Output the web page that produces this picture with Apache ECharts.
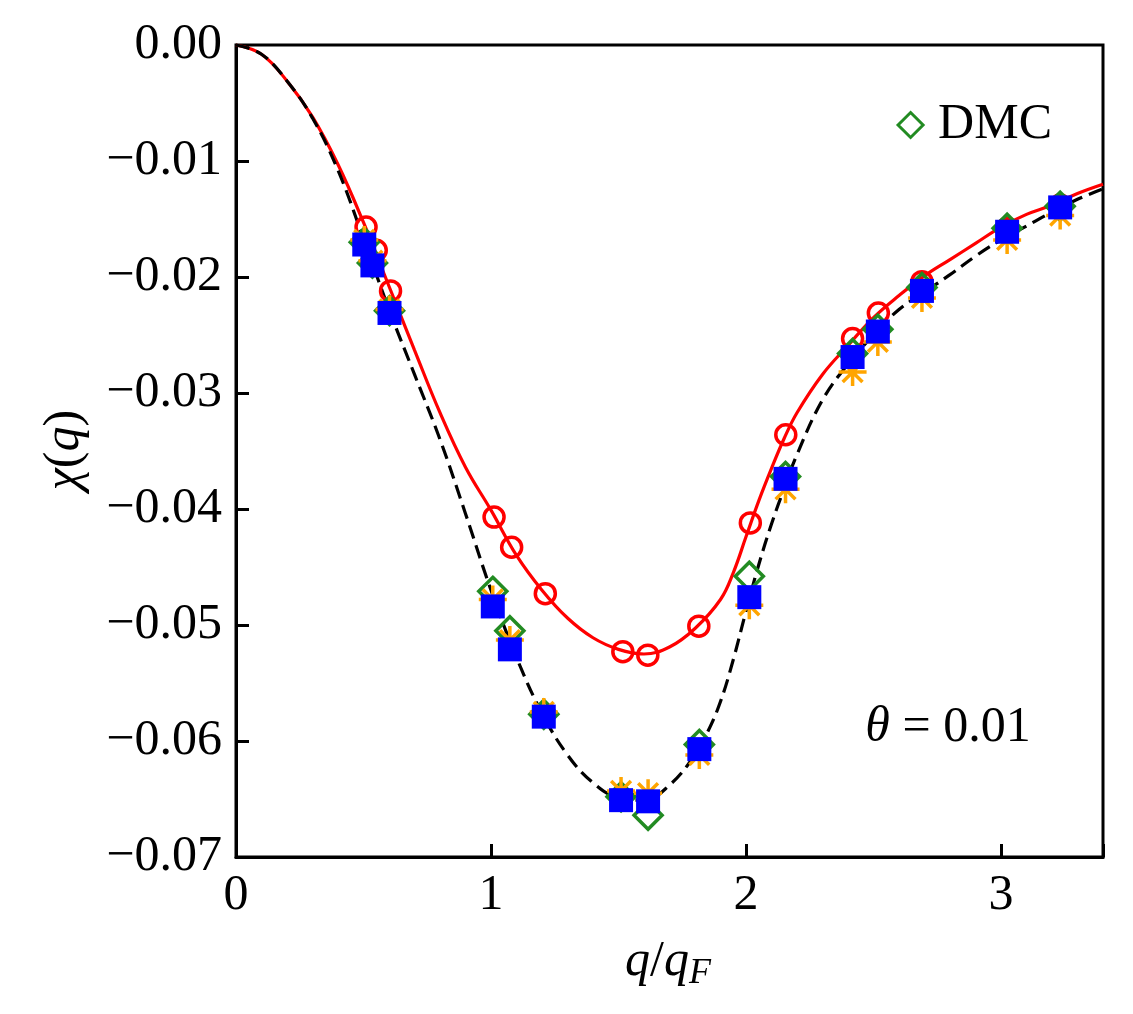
<!DOCTYPE html>
<html>
<head>
<meta charset="utf-8">
<script src="https://cdn.jsdelivr.net/npm/echarts@6/dist/echarts.min.js"></script>
<style>
  html, body { margin: 0; padding: 0; background: #fff; }
  #chart { width: 1133px; height: 1014px; }
</style>
</head>
<body>
<div id="chart"></div>
<script>
// q/qF positions of the data points
var ptX = [0.503, 0.535, 0.602, 1.007, 1.074, 1.207, 1.51, 1.616, 1.817, 2.013, 2.155, 2.418, 2.517, 2.69, 3.024, 3.232];
var redPtX = [0.51, 0.55, 0.606, 1.012, 1.081, 1.213, 1.517, 1.615, 1.815, 2.017, 2.156, 2.418, 2.519, 2.69, 3.024, 3.232];

var redPtY = [-0.0157, -0.0177, -0.0212, -0.0407, -0.0433, -0.0473, -0.0523, -0.0526, -0.0501, -0.0412, -0.0336, -0.0253, -0.0231, -0.0204, -0.0158, -0.0138];
var dmcY = [-0.0170, -0.0188, -0.0229, -0.0471, -0.0505, -0.0577, -0.0648, -0.0664, -0.0603, -0.0458, -0.0372, -0.0266, -0.0245, -0.0209, -0.0158, -0.0139];
var orangeY = [-0.0168, -0.0186, -0.0228, -0.0478, -0.0513, -0.0575, -0.0643, -0.0645, -0.0612, -0.0483, -0.0383, -0.0282, -0.0256, -0.0218, -0.0168, -0.0147];
var blueY = [-0.0172, -0.0190, -0.0231, -0.0484, -0.0521, -0.0579, -0.0651, -0.0652, -0.0607, -0.0476, -0.0374, -0.0269, -0.0247, -0.0212, -0.0161, -0.0140];

// red solid curve
var redLineX = [0, 0.1, 0.2, 0.3, 0.4, 0.5, 0.6, 0.7, 0.8, 0.9, 1.0, 1.1, 1.2, 1.3, 1.4, 1.5, 1.6, 1.7, 1.8, 1.9, 1.95, 2.0, 2.05, 2.1, 2.15, 2.2, 2.3, 2.4, 2.5, 2.6, 2.7, 2.8, 2.9, 3.0, 3.1, 3.2, 3.3, 3.4];
var redLineY = [0, -0.0008, -0.0031, -0.0062, -0.0103, -0.0153, -0.0208, -0.0263, -0.0317, -0.0364, -0.0401, -0.0440, -0.0470, -0.0494, -0.0511, -0.0521, -0.0525, -0.0519, -0.0503, -0.0478, -0.0455, -0.0424, -0.0393, -0.0365, -0.0339, -0.0317, -0.0284, -0.0259, -0.0235, -0.0216, -0.0199, -0.0185, -0.0171, -0.0157, -0.0146, -0.0138, -0.0128, -0.0120];

// black dashed curve
var blackLineX = [0, 0.1, 0.2, 0.3, 0.4, 0.5, 0.6, 0.7, 0.8, 0.9, 1.0, 1.1, 1.2, 1.3, 1.4, 1.5, 1.6, 1.7, 1.8, 1.85, 1.9, 1.95, 2.0, 2.05, 2.1, 2.15, 2.2, 2.3, 2.4, 2.5, 2.6, 2.7, 2.8, 2.9, 3.0, 3.1, 3.2, 3.3, 3.4];
var blackLineY = [0, -0.0008, -0.0031, -0.0063, -0.0108, -0.0167, -0.0228, -0.0284, -0.0340, -0.0404, -0.0470, -0.0528, -0.0576, -0.0612, -0.0636, -0.0649, -0.0651, -0.0638, -0.0612, -0.0592, -0.0566, -0.0530, -0.0488, -0.0448, -0.0413, -0.0382, -0.0353, -0.0306, -0.0275, -0.0250, -0.0228, -0.0213, -0.0198, -0.0182, -0.0168, -0.0156, -0.0144, -0.0133, -0.0124];

var xTicks = [0, 1, 2, 3];
var yTicks = [0, -0.01, -0.02, -0.03, -0.04, -0.05, -0.06, -0.07];

function pairs(xs, ys) {
  var out = [];
  for (var i = 0; i < xs.length; i++) {
    out.push([xs[i], ys[i]]);
  }
  return out;
}

var serif = "Liberation Serif";
var asterisk = "path://M0 -10 L0 10 M-10 0 L10 0 M-7.07 -7.07 L7.07 7.07 M-7.07 7.07 L7.07 -7.07";

var chart = echarts.init(document.getElementById("chart"), null, { renderer: "canvas" });

var option = {
  backgroundColor: "#fff",
  animation: false,
  grid: {
    left: 236, top: 45, right: 30, bottom: 157,
    show: true, borderColor: "#000", borderWidth: 3, backgroundColor: "transparent"
  },
  xAxis: {
    type: "value", min: 0, max: 3.4, interval: 1,
    axisLine: { show: true, onZero: false, lineStyle: { color: "#000", width: 3 } },
    axisTick: { show: true, inside: true, length: 13, lineStyle: { color: "#000", width: 3 } },
    splitLine: { show: false },
    axisLabel: {
      color: "#000", fontFamily: serif, fontSize: 50, margin: 14,
      formatter: function (v) {
        return xTicks.indexOf(Math.round(v * 1000) / 1000) >= 0 ? String(v) : "";
      }
    }
  },
  yAxis: {
    type: "value", min: -0.07, max: 0, interval: 0.01,
    axisLine: { show: true, onZero: false, lineStyle: { color: "#000", width: 3 } },
    axisTick: { show: true, inside: true, length: 13, lineStyle: { color: "#000", width: 3 } },
    splitLine: { show: false },
    axisLabel: {
      color: "#000", fontFamily: serif, fontSize: 50, margin: 14,
      formatter: function (v) {
        var s = Math.abs(v).toFixed(2);
        return v < -1e-9 ? "\u2212" + s : s;
      }
    }
  },
  legend: {
    data: ["DMC"],
    right: 76, top: 95,
    itemWidth: 25, itemHeight: 25, itemGap: 12,
    icon: "diamond",
    itemStyle: { color: "rgba(0,0,0,0)", borderColor: "#228B22", borderWidth: 3 },
    textStyle: { fontFamily: serif, fontSize: 50, color: "#000", padding: [0, 0, 0, 10] }
  },
  series: [
    {
      name: "red curve", type: "line", data: pairs(redLineX, redLineY),
      smooth: 0.4, showSymbol: false, symbol: "none",
      lineStyle: { color: "#ff0000", width: 3.2 }, z: 2
    },
    {
      name: "black curve", type: "line", data: pairs(blackLineX, blackLineY),
      smooth: 0.4, showSymbol: false, symbol: "none",
      lineStyle: { color: "#000", width: 3.2, type: [14, 7] }, z: 2
    },
    {
      name: "red points", type: "scatter", data: pairs(redPtX, redPtY),
      symbol: "circle", symbolSize: 20,
      itemStyle: { color: "rgba(0,0,0,0)", borderColor: "#ff0000", borderWidth: 3.5, opacity: 1 }, z: 3
    },
    {
      name: "DMC", type: "scatter", data: pairs(ptX, dmcY),
      symbol: "diamond", symbolSize: 28,
      itemStyle: { color: "rgba(0,0,0,0)", borderColor: "#228B22", borderWidth: 3.5, opacity: 1 }, z: 4
    },
    {
      name: "orange points", type: "scatter", data: pairs(ptX, orangeY),
      symbol: asterisk, symbolSize: 28,
      itemStyle: { color: "rgba(0,0,0,0)", borderColor: "#FFA500", borderWidth: 3.5, opacity: 1 }, z: 5
    },
    {
      name: "blue points", type: "scatter", data: pairs(ptX, blueY),
      symbol: "rect", symbolSize: 24,
      itemStyle: { color: "#0000ff", opacity: 1 }, z: 6
    }
  ],
  graphic: [
    {
      type: "text", x: 948, y: 728,
      style: {
        text: "{i|\u03b8} = 0.01",
        align: "center", verticalAlign: "middle",
        fontFamily: serif, fontSize: 50, fill: "#000",
        rich: { i: { fontFamily: serif, fontStyle: "italic", fontSize: 50 } }
      }
    },
    {
      type: "text", x: 668, y: 962,
      style: {
        text: "{i|q}/{i|q}{s|F}",
        align: "center", verticalAlign: "middle",
        fontFamily: serif, fontSize: 50, fill: "#000",
        rich: {
          i: { fontFamily: serif, fontStyle: "italic", fontSize: 50 },
          s: { fontFamily: serif, fontStyle: "italic", fontSize: 36, padding: [24, 0, 0, 0] }
        }
      }
    },
    {
      type: "text", x: 65, y: 450, rotation: Math.PI / 2,
      style: {
        text: "{i|\u03c7}({i|q})",
        align: "center", verticalAlign: "middle",
        fontFamily: serif, fontSize: 50, fill: "#000",
        rich: { i: { fontFamily: serif, fontStyle: "italic", fontSize: 50 } }
      }
    }
  ]
};

chart.setOption(option);
window.addEventListener("resize", chart.resize);
</script>
</body>
</html>
